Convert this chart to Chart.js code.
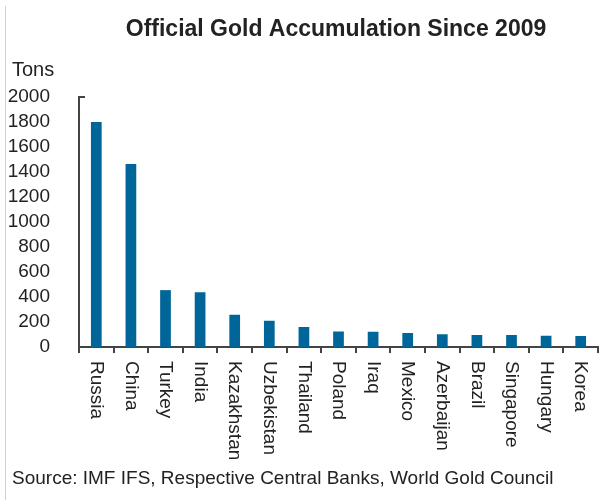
<!DOCTYPE html>
<html>
<head>
<meta charset="utf-8">
<script src="https://cdn.jsdelivr.net/npm/chart.js@4"></script>
<style>
  html, body { margin: 0; padding: 0; background: #fff; }
  #wrap { position: relative; width: 611px; height: 500px; }
  #edge { position: absolute; left: 5px; top: 6px; width: 1px; height: 494px; background: #d0d0d0; }
</style>
</head>
<body>
<div id="wrap">
  <div id="edge"></div>
  <canvas id="gold" width="611" height="500"></canvas>
</div>
<script>
var countries = ["Russia", "China", "Turkey", "India", "Kazakhstan", "Uzbekistan", "Thailand",
  "Poland", "Iraq", "Mexico", "Azerbaijan", "Brazil", "Singapore", "Hungary", "Korea"];
var tons = [1800, 1465, 455, 438, 258, 210, 160, 124, 122, 112, 102, 96, 96, 90, 88];
var yTicks = [0, 200, 400, 600, 800, 1000, 1200, 1400, 1600, 1800, 2000];

var titleText = "Official Gold Accumulation Since 2009";
var unitText = "Tons";
var sourceText = "Source: IMF IFS, Respective Central Banks, World Gold Council";

var textColor = "#222222";
var axisColor = "#444444";

// labels, title and notes drawn by hand (labels read top-to-bottom)
var extras = {
  id: "extras",
  afterDraw: function (chart) {
    var ctx = chart.ctx;
    var x = chart.scales.x;
    var y = chart.scales.y;
    ctx.save();
    ctx.fillStyle = textColor;

    ctx.font = "bold 23px Arial, 'Liberation Sans'";
    ctx.textAlign = "center";
    ctx.textBaseline = "middle";
    ctx.fillText(titleText, 336, 30);

    ctx.font = "20px Arial, 'Liberation Sans'";
    ctx.textAlign = "left";
    ctx.fillText(unitText, 12, 70);

    ctx.font = "19px Arial, 'Liberation Sans'";
    ctx.fillText(sourceText, 12, 479);

    for (var i = 0; i < countries.length; i++) {
      ctx.save();
      ctx.translate(x.getPixelForValue(i), x.top + 14);
      ctx.rotate(Math.PI / 2);
      ctx.textAlign = "left";
      ctx.textBaseline = "middle";
      ctx.fillText(countries[i], 0, 0);
      ctx.restore();
    }

    // small inward tick at the top of the value axis
    ctx.strokeStyle = axisColor;
    ctx.lineWidth = 2;
    ctx.beginPath();
    ctx.moveTo(y.right, y.getPixelForValue(2000));
    ctx.lineTo(y.right + 6, y.getPixelForValue(2000));
    ctx.stroke();
    ctx.restore();
  }
};

new Chart(document.getElementById("gold"), {
  type: "bar",
  data: {
    labels: countries,
    datasets: [{
      data: tons,
      backgroundColor: "#006699",
      borderWidth: 0,
      categoryPercentage: 1,
      barPercentage: 0.31
    }]
  },
  options: {
    responsive: false,
    animation: false,
    events: [],
    layout: { padding: { top: 97, right: 13, bottom: 0, left: 0 } },
    plugins: { legend: { display: false }, tooltip: { enabled: false } },
    scales: {
      x: {
        offset: true,
        grid: { display: true, offset: true, drawOnChartArea: false, drawTicks: true, tickLength: 6, color: axisColor, lineWidth: 2 },
        border: { display: true, color: axisColor, width: 2 },
        ticks: { display: false },
        afterFit: function (s) { s.height = 153; }
      },
      y: {
        min: 0,
        max: 2000,
        afterBuildTicks: function (s) { s.ticks = yTicks.map(function (v) { return { value: v }; }); },
        grid: { display: false },
        border: { display: true, color: axisColor, width: 2 },
        ticks: {
          color: textColor,
          padding: 21,
          autoSkip: false,
          font: { family: "Arial, 'Liberation Sans'", size: 19 },
          callback: function (v) { return String(v); }
        },
        afterFit: function (s) { s.width = 79; }
      }
    }
  },
  plugins: [extras]
});
</script>
</body>
</html>
